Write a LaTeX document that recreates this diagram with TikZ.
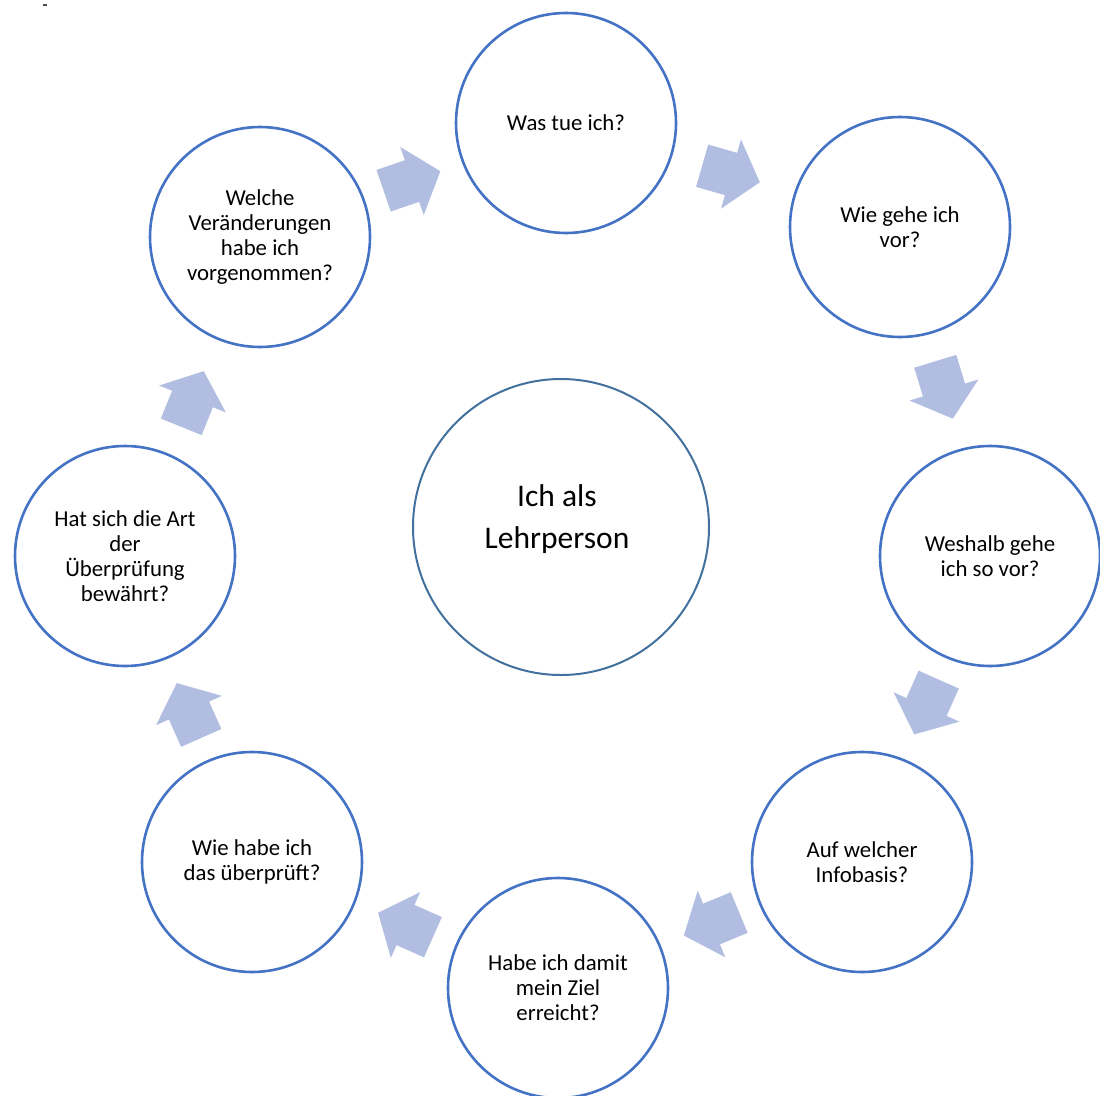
\documentclass[tikz,border=0pt]{standalone}
\usepackage{fontspec}
\setmainfont{Carlito}
\definecolor{ringblue}{RGB}{68,114,196}
\definecolor{coreblue}{RGB}{65,113,156}
\definecolor{arrowfill}{RGB}{178,190,225}
\begin{document}
\begin{tikzpicture}[x=1pt,y=-1pt,
  stage/.style={circle, draw=ringblue, line width=2.6pt, minimum size=220pt, inner sep=0pt, align=center, font=\fontsize{22.8}{25}\selectfont},
  core/.style={circle, draw=coreblue, line width=2pt, minimum size=296pt, inner sep=0pt},
  coretxt/.style={align=center, font=\fontsize{31.5}{42}\selectfont},
  cyclearrow/.pic={\fill[arrowfill] (-30,-22) -- (0,-22) -- (0,-36) -- (30,0) -- (0,36) -- (0,22) -- (-30,22) -- cycle;}]
\clip (0,0) rectangle (1100,1095);
\fill[white] (0,0) rectangle (1100,1095);
\draw[black!70, line width=1.2pt] (43,5) -- (47,5);

\node[core] (core) at (561,527) {};
\node[coretxt] (coretext) at (557,519) {Ich als\\Lehrperson};

\node[stage] (s1) at (566,123) {Was tue ich?};
\node[stage] (s2) at (900,227) {Wie gehe ich\\vor?};
\node[stage] (s3) at (990,556) {Weshalb gehe\\ich so vor?};
\node[stage] (s4) at (862,862) {Auf welcher\\Infobasis?};
\node[stage] (s5) at (558,988) {Habe ich damit\\mein Ziel\\erreicht?};
\node[stage] (s6) at (252,862) {Wie habe ich\\das überprüft?};
\node[stage] (s7) at (125,556) {Hat sich die Art\\der\\Überprüfung\\bewährt?};
\node[stage] (s8) at (260,237) {Welche\\Veränderungen\\habe ich\\vorgenommen?};

\pic (a1) [rotate=19] at (412,181) {cyclearrow};
\pic (a2) [rotate=-16] at (731,174) {cyclearrow};
\pic (a3) [rotate=-73] at (944,390) {cyclearrow};
\pic (a4) [rotate=-114] at (926.5,707) {cyclearrow};
\pic (a5) [rotate=-157.5] at (711.5,924) {cyclearrow};
\pic (a6) [rotate=156] at (405.5,925) {cyclearrow};
\pic (a7) [rotate=114] at (189,710.5) {cyclearrow};
\pic (a8) [rotate=68] at (192.5,399) {cyclearrow};
\end{tikzpicture}
\end{document}
